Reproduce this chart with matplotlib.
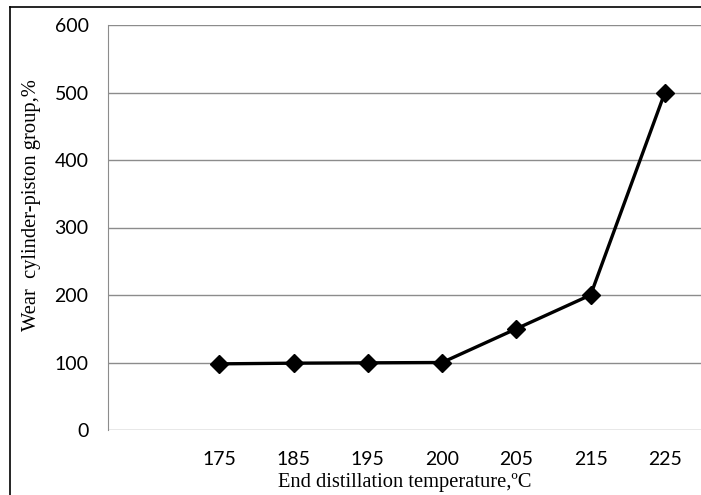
import numpy as np
import matplotlib.pyplot as plt
from matplotlib.lines import Line2D

# data
temps = ['175', '185', '195', '200', '205', '215', '225']
wear = [98, 99, 99.5, 100, 150, 200, 500]
yticks = [0, 100, 200, 300, 400, 500, 600]

W, H = 701, 495
fig = plt.figure(figsize=(W / 100, H / 100), dpi=100)
ax = fig.add_axes([108 / W, 1 - 430 / H, (702 - 108) / W, (430 - 25) / H])

x = np.arange(len(temps))
ax.plot(x, wear, color='black', lw=2.4, marker='D', markersize=9, zorder=3)

ax.set_xlim(-1.5, len(temps) - 0.5)
ax.set_ylim(0, 600)
ax.set_xticks(x)
ax.set_xticklabels(temps)
ax.set_yticks(yticks)
ax.yaxis.grid(True, color='#8c8c8c', lw=1)
ax.set_axisbelow(True)

for s in ['top', 'right', 'bottom']:
    ax.spines[s].set_visible(False)
ax.spines['left'].set_color('#8c8c8c')
ax.tick_params(length=0, labelsize=14)
ax.tick_params(axis='y', pad=14)
ax.tick_params(axis='x', pad=15)
for lab in ax.get_xticklabels() + ax.get_yticklabels():
    lab.set_fontfamily('Lato')

ax.set_xlabel('End distillation temperature,ºC', family='Liberation Serif',
              fontsize=14.8)
ax.xaxis.set_label_coords(0.5, -0.106)
ax.set_ylabel('Wear  cylinder-piston group,%', family='Liberation Serif',
              fontsize=14.8)
ax.yaxis.set_label_coords(-0.112, 0.556)

# outer frame lines (left and top)
fig.add_artist(Line2D([10 / W, 10 / W], [0, 1 - 7 / H], color='black', lw=1.2))
fig.add_artist(Line2D([10 / W, 1], [1 - 7 / H, 1 - 7 / H], color='black', lw=1.2))

fig.savefig('out.png', dpi=100)
